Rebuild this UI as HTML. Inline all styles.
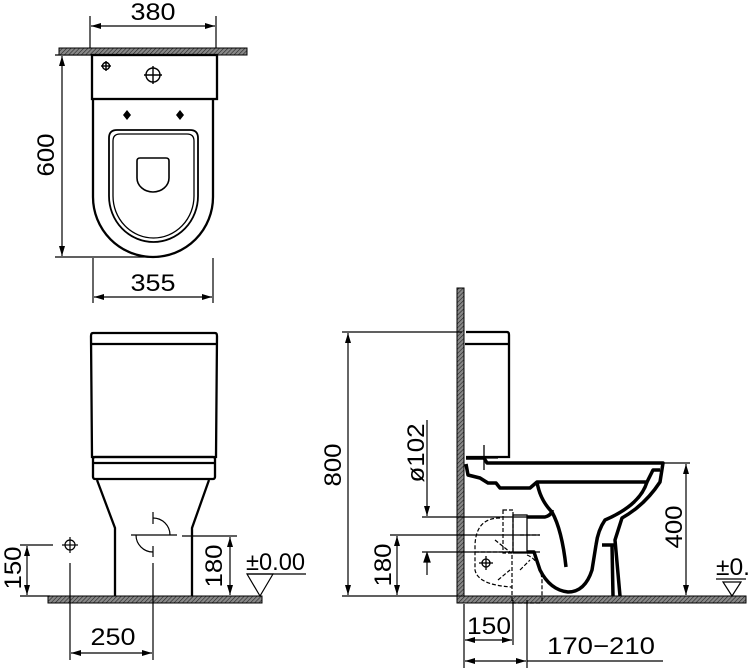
<!DOCTYPE html>
<html><head><meta charset="utf-8"><style>
html,body{margin:0;padding:0;background:#fff;}
svg{display:block;}
text{font-family:"Liberation Sans","DejaVu Sans",sans-serif;font-size:24px;fill:#000;}
</style></head><body>
<svg width="750" height="670" viewBox="0 0 750 670" xmlns="http://www.w3.org/2000/svg">
<defs>
<pattern id="h" width="3" height="3" patternUnits="userSpaceOnUse" patternTransform="rotate(45)">
<rect width="3" height="3" fill="#888"/><line x1="0" y1="0" x2="0" y2="3" stroke="#222" stroke-width="1.2"/>
</pattern>
<marker id="a" viewBox="0 0 10 6" refX="10" refY="3" markerWidth="10" markerHeight="6" orient="auto-start-reverse" markerUnits="userSpaceOnUse"><path d="M0,0 L10,3 L0,6 Z" fill="#000"/></marker>
</defs>

<!-- ===== TOP VIEW ===== -->
<g fill="none" stroke="#000" stroke-width="1.2">
<line x1="90" y1="16" x2="90" y2="50"/><line x1="216" y1="16" x2="216" y2="50"/>
<line x1="91" y1="26" x2="215" y2="26" marker-start="url(#a)" marker-end="url(#a)"/>
<line x1="55" y1="55" x2="92" y2="55"/><line x1="55" y1="257" x2="150" y2="257"/>
<line x1="62" y1="56" x2="62" y2="256" marker-start="url(#a)" marker-end="url(#a)"/>
<line x1="93" y1="258" x2="93" y2="303"/><line x1="213" y1="258" x2="213" y2="303"/>
<line x1="94" y1="297" x2="212" y2="297" marker-start="url(#a)" marker-end="url(#a)"/>
</g>
<rect x="59" y="48" width="188" height="7" fill="url(#h)" stroke="#000" stroke-width="1"/>
<g fill="none" stroke="#000" stroke-width="2.3">
<rect x="92" y="55" width="125" height="44"/>
<path d="M93,99 L93,197 A60,60 0 0 0 213,197 L213,99"/>
<path d="M109,138 Q109,130 117,130 L190,130 Q198,130 198,138 L198,196 A44.5,46 0 0 1 109,196 Z" stroke-width="1.8"/>
<path d="M113,141 Q113,134 120,134 L187,134 Q194,134 194,141 L194,196 A40.5,42 0 0 1 113,196 Z" stroke-width="1.3"/>
<path d="M137,161 Q137,158 140,158 L166,158 Q169,158 169,161 L169,178 A16,14 0 0 1 137,178 Z" stroke-width="1.6"/>
</g>
<g stroke="#000" fill="none" stroke-width="1.4">
<circle cx="106" cy="66" r="3.5"/><line x1="101" y1="66" x2="111" y2="66"/><line x1="106" y1="61" x2="106" y2="71"/>
<circle cx="153" cy="75" r="7"/><line x1="144" y1="75" x2="162" y2="75"/><line x1="153" y1="66" x2="153" y2="84"/>
</g>
<path d="M127,110 L131,115 L127,120 L123,115 Z M180,110 L184,115 L180,120 L176,115 Z" fill="#000"/>
<text x="153" y="20" text-anchor="middle" textLength="45" lengthAdjust="spacingAndGlyphs">380</text>
<text x="153" y="291" text-anchor="middle" textLength="45" lengthAdjust="spacingAndGlyphs">355</text>
<text transform="translate(54,155) rotate(-90)" text-anchor="middle" textLength="43" lengthAdjust="spacingAndGlyphs">600</text>

<!-- ===== FRONT VIEW ===== -->
<rect x="48" y="596" width="214" height="7" fill="url(#h)" stroke="#000" stroke-width="1"/>
<g fill="none" stroke="#000" stroke-width="2.3">
<path d="M93,333 L215,333 Q217,333 217,336 L216,457 L92,457 L91,336 Q91,333 93,333 Z"/>
<line x1="92" y1="344" x2="216" y2="344"/>
<rect x="93" y="457" width="122" height="22" rx="2"/>
<line x1="93" y1="463" x2="215" y2="463"/>
<path d="M97,480 L115,528 L115,596"/>
<path d="M209,480 L192,528 L192,596"/>
</g>
<g fill="none" stroke="#000" stroke-width="1.2">
<line x1="131" y1="535" x2="177" y2="535"/>
<line x1="182" y1="536" x2="237" y2="536"/>
<path d="M153,518 A17,17 0 0 1 170,535"/><path d="M136,535 A17,17 0 0 0 153,552"/>
<line x1="153" y1="512" x2="153" y2="524"/><line x1="153" y1="546" x2="153" y2="557"/>
<line x1="153" y1="563" x2="153" y2="660"/>
<circle cx="70" cy="545" r="5"/><line x1="62" y1="545" x2="78" y2="545"/><line x1="70" y1="537" x2="70" y2="553"/>
<line x1="70" y1="563" x2="70" y2="660"/>
<line x1="20" y1="545" x2="53" y2="545"/><line x1="20" y1="596" x2="50" y2="596"/>
<line x1="27" y1="546" x2="27" y2="595" marker-start="url(#a)" marker-end="url(#a)"/>
<line x1="230" y1="537" x2="230" y2="595" marker-start="url(#a)" marker-end="url(#a)"/>
<line x1="71" y1="653" x2="152" y2="653" marker-start="url(#a)" marker-end="url(#a)"/>
<line x1="247" y1="574" x2="306" y2="574"/>
<path d="M247,574 L273,574 L260,596 Z"/>
</g>
<text transform="translate(21,568) rotate(-90)" text-anchor="middle" textLength="43" lengthAdjust="spacingAndGlyphs">150</text>
<text transform="translate(222,566) rotate(-90)" text-anchor="middle" textLength="43" lengthAdjust="spacingAndGlyphs">180</text>
<text x="246" y="570" textLength="59" lengthAdjust="spacingAndGlyphs">±0.00</text>
<text x="113" y="645" text-anchor="middle" textLength="45" lengthAdjust="spacingAndGlyphs">250</text>

<!-- ===== SIDE VIEW ===== -->
<rect x="457" y="288" width="7" height="315" fill="url(#h)" stroke="#000" stroke-width="1"/>
<rect x="457" y="596" width="289" height="7" fill="url(#h)" stroke="#000" stroke-width="1"/>
<g fill="none" stroke="#000" stroke-width="1.2">
<line x1="342" y1="332" x2="462" y2="332"/><line x1="342" y1="596" x2="457" y2="596"/>
<line x1="348" y1="333" x2="348" y2="595" marker-start="url(#a)" marker-end="url(#a)"/>
<line x1="427" y1="420" x2="427" y2="516" marker-end="url(#a)"/>
<line x1="422" y1="517" x2="540" y2="517"/>
<line x1="390" y1="535" x2="540" y2="535"/>
<line x1="422" y1="552" x2="540" y2="552"/>
<line x1="427" y1="555" x2="427" y2="575"/><path d="M424,562 L427,553 L430,562 Z" fill="#000"/>
<line x1="397" y1="536" x2="397" y2="595" marker-start="url(#a)" marker-end="url(#a)"/>
<line x1="663" y1="463" x2="690" y2="463"/>
<line x1="686" y1="464" x2="686" y2="595" marker-start="url(#a)" marker-end="url(#a)"/>
<line x1="464" y1="604" x2="464" y2="668"/>
<line x1="513" y1="600" x2="513" y2="645"/>
<line x1="527" y1="600" x2="527" y2="668"/>
<line x1="465" y1="640" x2="512" y2="640" marker-start="url(#a)" marker-end="url(#a)"/>
<line x1="465" y1="661" x2="526" y2="661" marker-start="url(#a)" marker-end="url(#a)"/>
<line x1="527" y1="661" x2="663" y2="661"/>
<path d="M723,582 L741,582 L732,596 Z"/><line x1="716" y1="579" x2="746" y2="579"/>
</g>
<g fill="none" stroke="#000" stroke-width="2.3">
<path d="M466,332 L507,332 Q509,332 509,335 L509,457 L466,457"/>
<line x1="465" y1="344" x2="509" y2="344"/>
</g>
<g fill="none" stroke="#000" stroke-width="3.5" stroke-linejoin="round">
<path d="M466,458 L484,458 L487,463 L663,463 L660,482 Q645,505 622,518 L615,540 L620,596"/>
<path d="M466,464 L468,475 L480,478 L488,483 L496,483 L500,488 L530,488 L537,482 L647,482 L653,470 L660,470"/>
<path d="M537,482 Q540,500 552,512 Q562,530 566,567"/>
<path d="M647,482 Q640,505 605,520 Q598,530 596,545 L592,570 Q585,592 568,592 Q550,590 540,570 L534,552 L527,552"/>
<path d="M527,517 L545,517 Q552,515 552,510"/>
<line x1="602" y1="545" x2="616" y2="545"/>
<line x1="612" y1="545" x2="613" y2="596"/>
</g>
<g fill="none" stroke="#000" stroke-width="1.3">
<rect x="513" y="515" width="14" height="38"/>
</g>
<g fill="none" stroke="#000" stroke-width="1.2" stroke-dasharray="4,2">
<rect x="503" y="510" width="10" height="43"/>
<path d="M500,518 Q476,518 475,545 L475,570 Q478,585 512,587"/>
<path d="M475,552 L513,552"/>
<path d="M512,555 L512,603 M527,555 Q540,560 542,580 L542,603 M512,603 L542,603"/>
<path d="M495,540 L510,552 M520,570 L530,560 M498,580 L510,570"/>
<line x1="520" y1="535" x2="540" y2="535"/>
</g>
<g stroke="#000" stroke-width="1.3" fill="none">
<circle cx="486" cy="563" r="4"/><line x1="479" y1="563" x2="493" y2="563"/><line x1="486" y1="556" x2="486" y2="570"/>
<line x1="484" y1="445" x2="484" y2="470"/><line x1="470" y1="458" x2="498" y2="458"/>
</g>
<text transform="translate(341,465) rotate(-90)" text-anchor="middle" textLength="43" lengthAdjust="spacingAndGlyphs">800</text>
<text transform="translate(424,453) rotate(-90)" text-anchor="middle" textLength="59" lengthAdjust="spacingAndGlyphs">ø102</text>
<text transform="translate(391,565) rotate(-90)" text-anchor="middle" textLength="43" lengthAdjust="spacingAndGlyphs">180</text>
<text transform="translate(682,527) rotate(-90)" text-anchor="middle" textLength="43" lengthAdjust="spacingAndGlyphs">400</text>
<text x="716" y="575" textLength="34" lengthAdjust="spacingAndGlyphs">±0.</text>
<text x="489" y="634" text-anchor="middle" textLength="44" lengthAdjust="spacingAndGlyphs">150</text>
<text x="547" y="654" textLength="108" lengthAdjust="spacingAndGlyphs">170−210</text>
</svg>
</body></html>
